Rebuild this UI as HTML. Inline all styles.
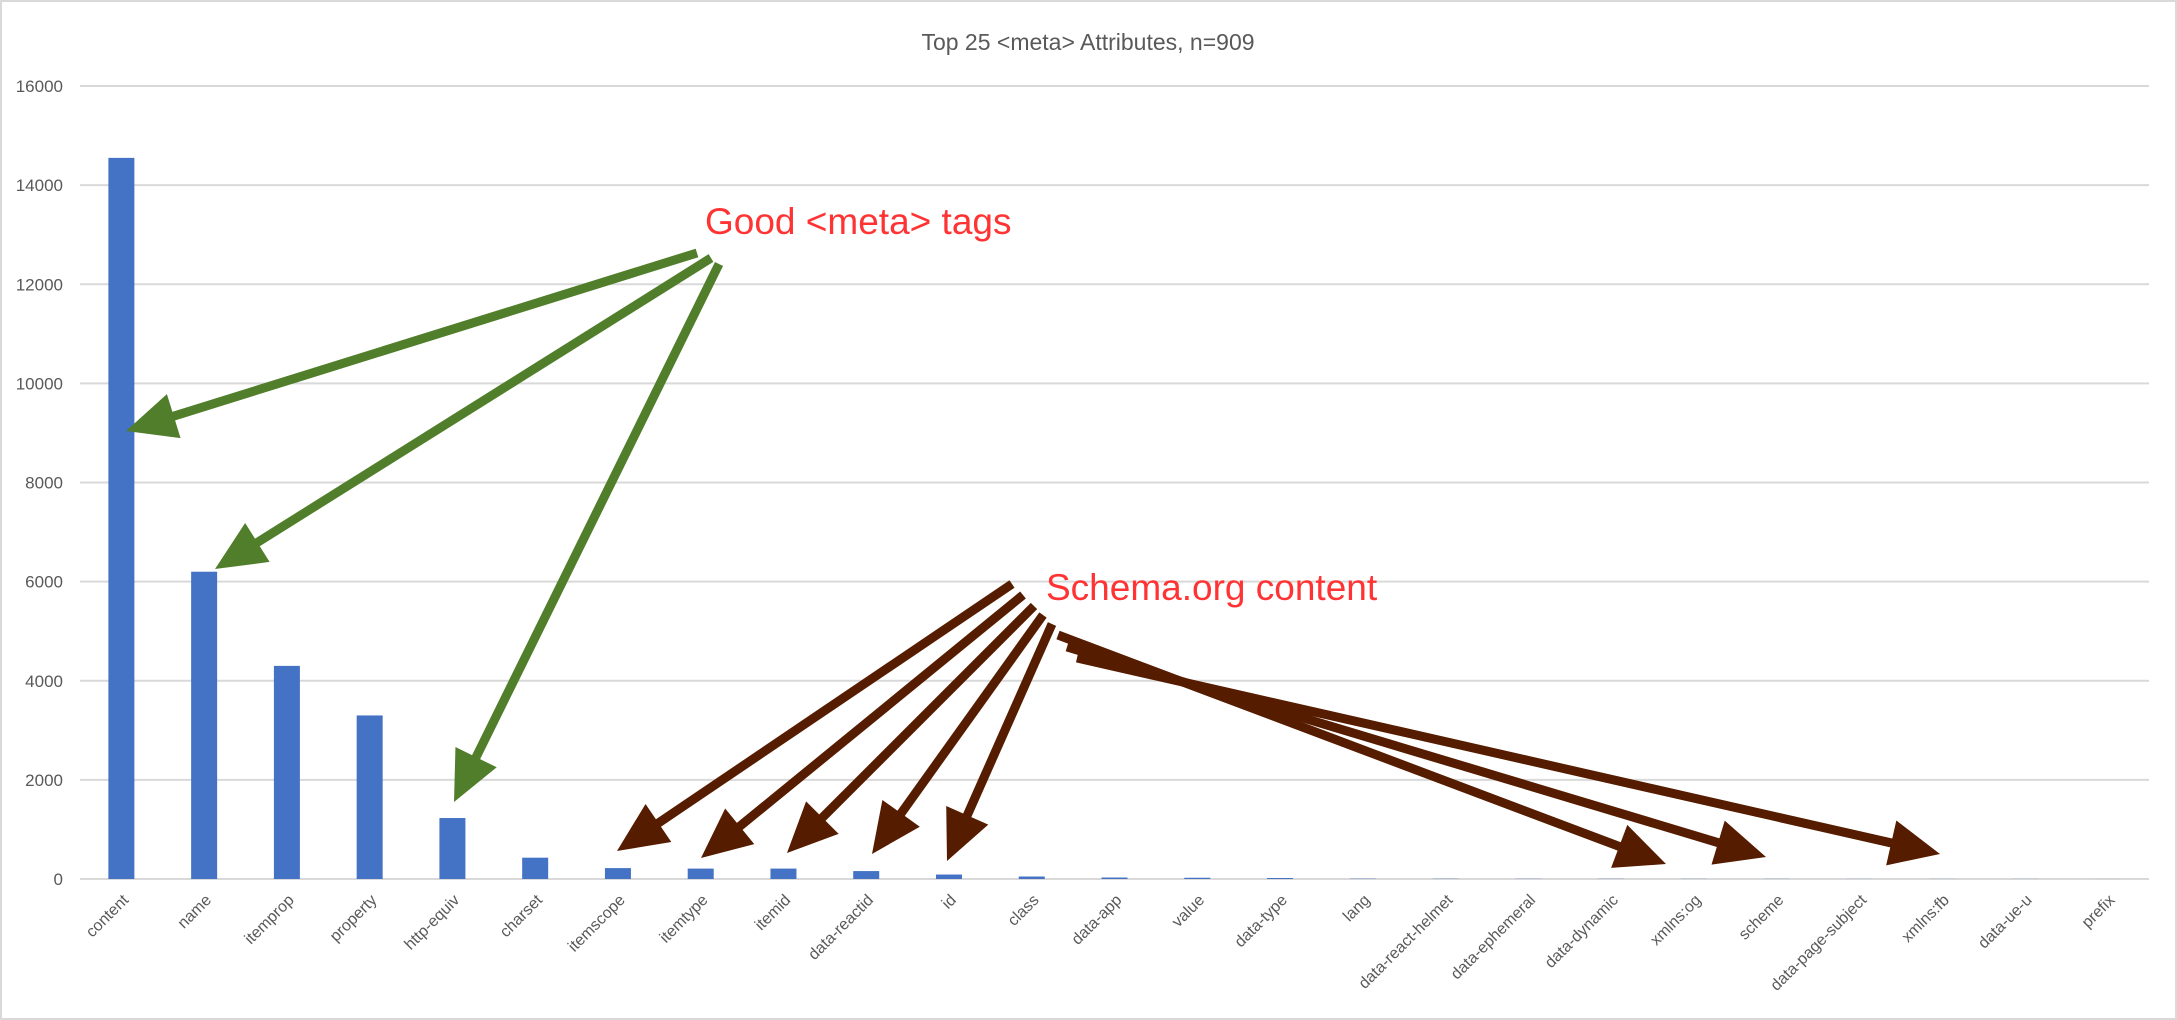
<!DOCTYPE html>
<html><head><meta charset="utf-8"><style>
html,body{margin:0;padding:0;background:#fff;}
svg{display:block;font-family:"Liberation Sans",sans-serif;}
</style></head><body>
<svg id="chart" width="2177" height="1020" viewBox="0 0 2177 1020">
<rect x="1" y="1" width="2175" height="1018" fill="#fff" stroke="#d9d9d9" stroke-width="2"/>
<text x="1088" y="50" text-anchor="middle" font-size="23" fill="#595959">Top 25 &lt;meta&gt; Attributes, n=909</text>
<g id="grid"></g><g id="bars"></g><g id="xlabels"></g>
<g id="annot">
<text x="705" y="234" font-size="37" fill="#ff3333">Good &lt;meta&gt; tags</text>
<text x="1046" y="600" font-size="37" fill="#ff3333">Schema.org content</text>
</g>
<g id="arrows"></g>
</svg>
<script>
const categories=["content","name","itemprop","property","http-equiv","charset","itemscope","itemtype","itemid","data-reactid","id","class","data-app","value","data-type","lang","data-react-helmet","data-ephemeral","data-dynamic","xmlns:og","scheme","data-page-subject","xmlns:fb","data-ue-u","prefix"];
const values=[14550,6200,4300,3300,1230,430,220,210,210,160,90,50,30,25,20,6,5,4,4,3,3,2,2,2,1];
const yTicks=[0,2000,4000,6000,8000,10000,12000,14000,16000];
const NS="http://www.w3.org/2000/svg";
const L=80,R=2149,T=86,B=879,yMax=16000;
const y=v=>B-(v/yMax)*(B-T);
const step=(R-L)/categories.length;
const xc=i=>L+step*(i+0.5);
function mk(t,a,p){const e=document.createElementNS(NS,t);for(const k in a)e.setAttribute(k,a[k]);p.appendChild(e);return e;}
const grid=document.getElementById('grid');
yTicks.forEach(v=>{
 const l=mk('line',{x1:L,x2:R,y1:y(v),y2:y(v),stroke:'#d9d9d9','stroke-width':2},grid);
 
 
 const t=mk('text',{x:63,y:y(v)+6,'text-anchor':'end','font-size':17,fill:'#595959'},grid);
 t.textContent=v;
 
 
});
const bars=document.getElementById('bars'),xl=document.getElementById('xlabels');
const bw=26;
categories.forEach((c,i)=>{
 const b=mk('rect',{x:xc(i)-bw/2,y:y(values[i]),width:bw,height:B-y(values[i]),fill:'#4472c4'},bars);
 
 
 const t=mk('text',{x:0,y:0,'text-anchor':'end','font-size':16,fill:'#595959',transform:`translate(${xc(i)+8},${B+22}) rotate(-45)`},xl);
 t.textContent=c;
 
 
});
const arrows=document.getElementById('arrows');
function arrow(x1,y1,x2,y2,col,name){
 const g=mk('g',{},arrows);
 
 
 const dx=x2-x1,dy=y2-y1,len=Math.hypot(dx,dy),ux=dx/len,uy=dy/len;
 const hl=50,hw=23;
 const bx=x2-ux*hl,by=y2-uy*hl;
 mk('line',{x1,y1,x2:bx+ux*4,y2:by+uy*4,stroke:col,'stroke-width':9},g);
 mk('polygon',{points:`${x2},${y2} ${bx-uy*hw},${by+ux*hw} ${bx+uy*hw},${by-ux*hw}`,fill:col},g);
}
const G='#507e2b',Br='#561c00';
arrow(697,253,126,431,G,'arrow-content');
arrow(711,258,215,569,G,'arrow-name');
arrow(719,264,454,802,G,'arrow-http-equiv');
arrow(1012,584,617,851,Br,'arrow-itemscope');
arrow(1023,595,701,858,Br,'arrow-itemtype');
arrow(1034,606,787,853,Br,'arrow-itemid');
arrow(1043,615,872,854,Br,'arrow-data-reactid');
arrow(1052,624,947,861,Br,'arrow-id');
arrow(1058,635,1666,864,Br,'arrow-xmlns-og');
arrow(1067,647,1766,857,Br,'arrow-scheme');
arrow(1077,658,1940,854,Br,'arrow-xmlns-fb');
</script>
</body></html>
